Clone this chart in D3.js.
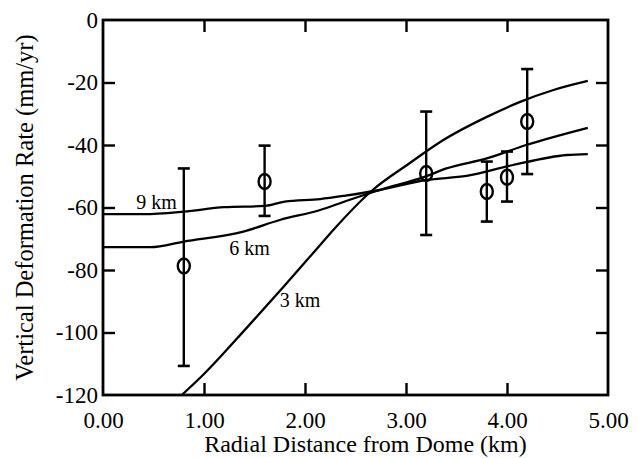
<!DOCTYPE html>
<html>
<head>
<meta charset="utf-8">
<script src="https://cdn.jsdelivr.net/npm/d3@7"></script>
<style>
  html, body { margin: 0; padding: 0; background: #fff; }
  svg { display: block; }
  text { font-family: "Liberation Serif", "Times New Roman", serif; fill: #000; }
</style>
</head>
<body>
<div id="chart"></div>
<script>
// ---- data ----
const xTicks = [0, 1, 2, 3, 4, 5];
const yTicks = [-120, -100, -80, -60, -40, -20, 0];

const model9X = [0, 0.4, 0.8, 1.2, 1.6, 1.8, 2.15, 2.4, 2.74, 3.2, 3.6, 4.06, 4.59, 4.8];
const model9Y = [-62.1, -62.1, -61.3, -59.9, -59.5, -58.1, -57.3, -56.2, -54.4, -51.2, -49.9, -46.4, -43.2, -42.9];

const model6X = [0, 0.47, 0.8, 1.39, 1.75, 2.15, 2.4, 2.74, 3.19, 3.4, 3.8, 4.19, 4.8];
const model6Y = [-72.7, -72.7, -70.9, -67.7, -64, -60.8, -58, -54.4, -50.1, -47.5, -44.3, -40, -34.5];

const model3X = [0.78, 0.99, 1.42, 1.79, 2.15, 2.28, 2.67, 3.01, 3.37, 3.8, 4.13, 4.46, 4.8];
const model3Y = [-120, -113.6, -98.6, -85.3, -72, -67.2, -54.4, -46.4, -38.4, -31, -26.2, -22.4, -19.5];

const obsX  = [0.8, 1.6, 3.2, 3.8, 4.0, 4.2];
const obsY  = [-78.7, -51.7, -49.1, -54.9, -50.3, -32.5];
const obsHi = [-47.5, -40.2, -29.3, -45.3, -42.1, -15.7];
const obsLo = [-110.7, -62.7, -68.8, -64.5, -58.1, -49.3];

const modelNames = ["9 km", "6 km", "3 km"];

// ---- layout ----
const W = 639, H = 458;
const margin = { left: 103, right: 31, top: 20, bottom: 63 };

const svg = d3.select("#chart").append("svg").attr("width", W).attr("height", H);

const x = d3.scaleLinear().domain([0, 5]).range([margin.left, W - margin.right]);
const y = d3.scaleLinear().domain([-120, 0]).range([H - margin.bottom, margin.top]);

svg.append("defs").append("clipPath").attr("id", "plotClip")
  .append("rect")
  .attr("x", x(0)).attr("y", y(0))
  .attr("width", x(5) - x(0)).attr("height", y(-120) - y(0));

// ---- axes ----
function styleAxis(g, fontSize) {
  g.selectAll(".domain").remove();
  g.selectAll(".tick line").attr("stroke", "#000").attr("stroke-width", 2.4);
  g.selectAll(".tick text").attr("font-size", fontSize)
    .style("font-family", "'Liberation Serif', 'Times New Roman', serif");
}

const innerTicksX = [1, 2, 3, 4];
const innerTicksY = [-100, -80, -60, -40, -20];

// bottom
const gB = svg.append("g").attr("transform", `translate(0,${y(-120)})`)
  .call(d3.axisBottom(x).tickValues(xTicks).tickSize(0).tickPadding(17)
    .tickFormat(d => d.toFixed(2)));
styleAxis(gB, 23);
svg.append("g").attr("transform", `translate(0,${y(-120)})`)
  .call(d3.axisBottom(x).tickValues(innerTicksX).tickSize(-12).tickFormat(""))
  .call(g => styleAxis(g, 0));

// top
svg.append("g").attr("transform", `translate(0,${y(0)})`)
  .call(d3.axisTop(x).tickValues(innerTicksX).tickSize(-12).tickFormat(""))
  .call(g => styleAxis(g, 0));

// left
const gL = svg.append("g").attr("transform", `translate(${x(0)},0)`)
  .call(d3.axisLeft(y).tickValues(yTicks).tickSize(0).tickPadding(5)
    .tickFormat(d => String(d)));
styleAxis(gL, 23);
svg.append("g").attr("transform", `translate(${x(0)},0)`)
  .call(d3.axisLeft(y).tickValues(innerTicksY).tickSize(-12).tickFormat(""))
  .call(g => styleAxis(g, 0));

// right
svg.append("g").attr("transform", `translate(${x(5)},0)`)
  .call(d3.axisRight(y).tickValues(innerTicksY).tickSize(-12).tickFormat(""))
  .call(g => styleAxis(g, 0));

// frame
svg.append("rect")
  .attr("x", x(0)).attr("y", y(0))
  .attr("width", x(5) - x(0)).attr("height", y(-120) - y(0))
  .attr("fill", "none").attr("stroke", "#000").attr("stroke-width", 2.8);

// ---- model curves ----
const lineGen = d3.line()
  .x(d => x(d[0])).y(d => y(d[1]))
  .curve(d3.curveMonotoneX);

const models = [
  { name: modelNames[0], xs: model9X, ys: model9Y },
  { name: modelNames[1], xs: model6X, ys: model6Y },
  { name: modelNames[2], xs: model3X, ys: model3Y }
];

const plot = svg.append("g").attr("clip-path", "url(#plotClip)");
plot.selectAll("path.model")
  .data(models)
  .join("path")
  .attr("class", "model")
  .attr("d", m => lineGen(m.xs.map((v, i) => [v, m.ys[i]])))
  .attr("fill", "none")
  .attr("stroke", "#000")
  .attr("stroke-width", 2.3);

// curve labels (anchored in data coordinates)
const labelAnchors = [[0.33, -60.6], [1.25, -75.2], [1.75, -91.7]];
svg.selectAll("text.mlabel")
  .data(models)
  .join("text")
  .attr("class", "mlabel")
  .attr("x", (m, i) => x(labelAnchors[i][0]))
  .attr("y", (m, i) => y(labelAnchors[i][1]))
  .attr("font-size", 20)
  .text(m => m.name);

// ---- observations ----
const obs = obsX.map((v, i) => ({ x: v, y: obsY[i], hi: obsHi[i], lo: obsLo[i] }));
const og = svg.append("g");
const capW = 6;
og.selectAll("line.bar").data(obs).join("line").attr("class", "bar")
  .attr("x1", d => x(d.x)).attr("x2", d => x(d.x))
  .attr("y1", d => y(d.hi)).attr("y2", d => y(d.lo))
  .attr("stroke", "#000").attr("stroke-width", 2.4);
og.selectAll("line.capHi").data(obs).join("line").attr("class", "capHi")
  .attr("x1", d => x(d.x) - capW).attr("x2", d => x(d.x) + capW)
  .attr("y1", d => y(d.hi)).attr("y2", d => y(d.hi))
  .attr("stroke", "#000").attr("stroke-width", 2.6);
og.selectAll("line.capLo").data(obs).join("line").attr("class", "capLo")
  .attr("x1", d => x(d.x) - capW).attr("x2", d => x(d.x) + capW)
  .attr("y1", d => y(d.lo)).attr("y2", d => y(d.lo))
  .attr("stroke", "#000").attr("stroke-width", 2.6);
og.selectAll("ellipse").data(obs).join("ellipse")
  .attr("cx", d => x(d.x)).attr("cy", d => y(d.y))
  .attr("rx", 6).attr("ry", 7.5)
  .attr("fill", "none").attr("stroke", "#000").attr("stroke-width", 2.4);

// ---- axis titles ----
svg.append("text")
  .attr("x", (x(0) + x(5)) / 2 + 10)
  .attr("y", 452)
  .attr("text-anchor", "middle")
  .attr("font-size", 24)
  .text("Radial Distance from Dome (km)");

svg.append("text")
  .attr("transform", `translate(33,${(y(0) + y(-120)) / 2}) rotate(-90)`)
  .attr("text-anchor", "middle")
  .attr("font-size", 24.5)
  .text("Vertical Deformation Rate (mm/yr)");
</script>
</body>
</html>
